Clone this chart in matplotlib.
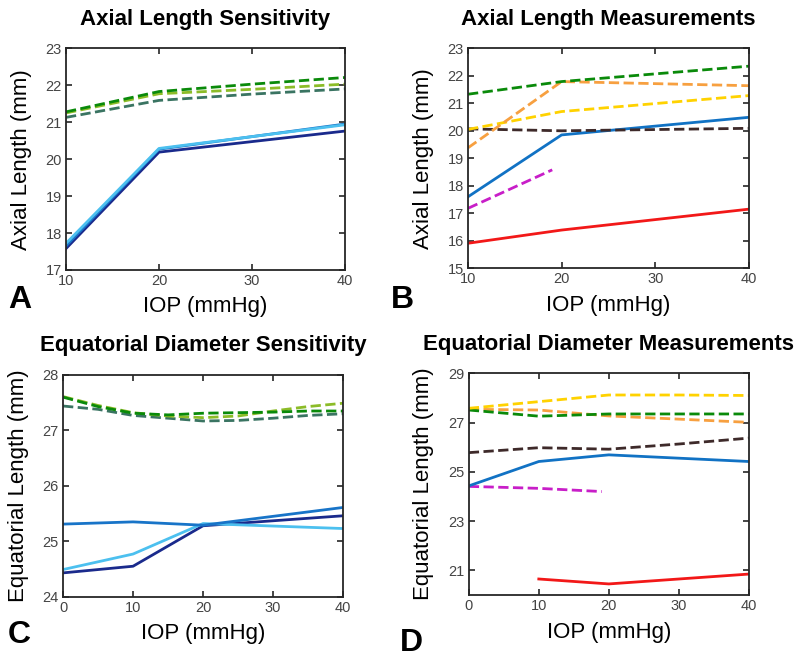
import matplotlib
matplotlib.use("Agg")
import matplotlib.pyplot as plt

plt.rcParams['font.family'] = ['Liberation Sans', 'DejaVu Sans']

# colours
NAVY = "#1a2a8c"
MIDBLUE = "#1874c8"
LIGHTBLUE = "#4cc0ef"
DKGREEN = "#0a8a0a"
LIME = "#8cbc28"
TEAL = "#3a7462"
BLUE = "#1172c4"
RED = "#f21818"
MAGENTA = "#c81ec8"
YELLOW = "#ffd200"
ORANGE = "#f7a040"
BROWN = "#3e2a2a"

# --- A: axial length sensitivity ---
a_x_dash = [10, 20, 30, 40]
a_dkgreen = [21.28, 21.83, 22.03, 22.21]
a_lime = [21.25, 21.77, 21.89, 22.03]
a_teal = [21.13, 21.59, 21.76, 21.90]
a_x_solid = [10, 20, 40]
a_navy = [17.58, 20.19, 20.76]
a_light = [17.72, 20.29, 20.93]
a_mid = [17.65, 20.27, 20.95]

# --- B: axial length measurements ---
b_x = [10, 20, 40]
b_green = [21.33, 21.79, 22.35]
b_orange = [19.38, 21.79, 21.64]
b_yellow = [20.05, 20.70, 21.28]
b_brown = [20.07, 20.00, 20.09]
b_blue = [17.60, 19.85, 20.49]
b_red = [15.91, 16.39, 17.15]
b_x_magenta = [10, 19]
b_magenta = [17.18, 18.58]

# --- C: equatorial diameter sensitivity ---
c_x_dash = [0, 5, 10, 15, 20, 25, 30, 35, 40]
c_dkgreen = [27.60, 27.43, 27.31, 27.28, 27.31, 27.32, 27.33, 27.35, 27.35]
c_lime = [27.61, 27.45, 27.32, 27.26, 27.23, 27.26, 27.35, 27.43, 27.49]
c_teal = [27.44, 27.38, 27.27, 27.22, 27.17, 27.18, 27.22, 27.27, 27.30]
c_x_solid = [0, 10, 20, 40]
c_mid = [25.31, 25.35, 25.29, 25.61]
c_light = [24.49, 24.77, 25.32, 25.23]
c_navy = [24.43, 24.55, 25.28, 25.46]

# --- D: equatorial diameter measurements ---
d_x = [0, 10, 20, 30, 40]
d_yellow = [27.58, 27.85, 28.12, 28.12, 28.10]
d_orange = [27.54, 27.51, 27.27, 27.14, 27.01]
d_green = [27.51, 27.26, 27.35, 27.35, 27.35]
d_brown = [25.78, 25.98, 25.92, 26.13, 26.37]
d_x_blue = [0, 10, 20, 40]
d_blue = [24.43, 25.42, 25.69, 25.42]
d_x_magenta = [0, 10, 19]
d_magenta = [24.41, 24.33, 24.20]
d_x_red = [10, 20, 40]
d_red = [20.65, 20.45, 20.85]

LW = 2.0

fig = plt.figure(figsize=(8.0, 6.59), dpi=100)


def style(ax, title, ylabel, xlim, xticks, ylim, yticks):
    ax.set_xlim(*xlim)
    ax.set_ylim(*ylim)
    ax.set_xticks(xticks)
    ax.set_yticks(yticks)
    ax.tick_params(direction='in', top=True, right=True, length=4, width=1.2,
                   labelsize=10.5, colors='#262626', labelcolor='#444444', pad=3)
    for s in ax.spines.values():
        s.set_linewidth(1.3)
        s.set_color('#262626')
    ax.set_title(title, fontsize=16, fontweight='bold', pad=17)
    ax.set_ylabel(ylabel, fontsize=16, labelpad=10)
    ax.set_xlabel("IOP (mmHg)", fontsize=16, labelpad=6)


# A
ax = fig.add_axes([0.0825, 0.5903, 0.3488, 0.3364])
ax.plot(a_x_dash, a_teal, '--', color=TEAL, lw=LW)
ax.plot(a_x_dash, a_lime, '--', color=LIME, lw=LW)
ax.plot(a_x_dash, a_dkgreen, '--', color=DKGREEN, lw=LW)
ax.plot(a_x_solid, a_navy, '-', color=NAVY, lw=LW)
ax.plot(a_x_solid, a_mid, '-', color=MIDBLUE, lw=LW)
ax.plot(a_x_solid, a_light, '-', color=LIGHTBLUE, lw=LW)
style(ax, "Axial Length Sensitivity", "Axial Length (mm)",
      (10, 40), [10, 20, 30, 40], (17, 23), range(17, 24))

# B
ax = fig.add_axes([0.585, 0.5929, 0.351, 0.3338])
ax.plot(b_x, b_red, '-', color=RED, lw=LW)
ax.plot(b_x_magenta, b_magenta, '--', color=MAGENTA, lw=LW)
ax.plot(b_x, b_blue, '-', color=BLUE, lw=LW)
ax.plot(b_x, b_brown, '--', color=BROWN, lw=LW)
ax.plot(b_x, b_yellow, '--', color=YELLOW, lw=LW)
ax.plot(b_x, b_orange, '--', color=ORANGE, lw=LW)
ax.plot(b_x, b_green, '--', color=DKGREEN, lw=LW)
style(ax, "Axial Length Measurements", "Axial Length (mm)",
      (10, 40), [10, 20, 30, 40], (15, 23), range(15, 24))

# C
ax = fig.add_axes([0.0788, 0.0945, 0.35, 0.3365])
ax.plot(c_x_dash, c_teal, '--', color=TEAL, lw=LW)
ax.plot(c_x_dash, c_lime, '--', color=LIME, lw=LW)
ax.plot(c_x_dash, c_dkgreen, '--', color=DKGREEN, lw=LW)
ax.plot(c_x_solid, c_navy, '-', color=NAVY, lw=LW)
ax.plot(c_x_solid, c_light, '-', color=LIGHTBLUE, lw=LW)
ax.plot(c_x_solid, c_mid, '-', color=MIDBLUE, lw=LW)
style(ax, "Equatorial Diameter Sensitivity", "Equatorial Length (mm)",
      (0, 40), [0, 10, 20, 30, 40], (24, 28), range(24, 29))

# D
ax = fig.add_axes([0.586, 0.0971, 0.35, 0.3364])
ax.plot(d_x_red, d_red, '-', color=RED, lw=LW)
ax.plot(d_x_magenta, d_magenta, '--', color=MAGENTA, lw=LW)
ax.plot(d_x_blue, d_blue, '-', color=BLUE, lw=LW)
ax.plot(d_x, d_brown, '--', color=BROWN, lw=LW)
ax.plot(d_x, d_orange, '--', color=ORANGE, lw=LW)
ax.plot(d_x, d_green, '--', color=DKGREEN, lw=LW)
ax.plot(d_x, d_yellow, '--', color=YELLOW, lw=LW)
style(ax, "Equatorial Diameter Measurements", "Equatorial Length (mm)",
      (0, 40), [0, 10, 20, 30, 40], (20, 29), [21, 23, 25, 27, 29])

# panel letters
for lbl, x, y in [("A", 0.010, 0.533), ("B", 0.488, 0.533),
                  ("C", 0.010, 0.024), ("D", 0.500, 0.012)]:
    fig.text(x, y, lbl, fontsize=23, fontweight='bold')

fig.savefig("out.png", dpi=100)
